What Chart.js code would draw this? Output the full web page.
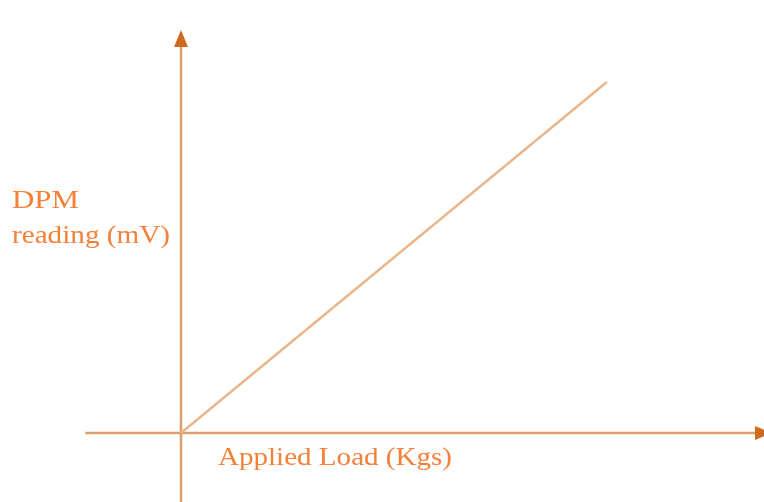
<!DOCTYPE html>
<html>
<head>
<meta charset="utf-8">
<script src="https://cdn.jsdelivr.net/npm/chart.js@4"></script>
<style>
  html, body { margin: 0; padding: 0; background: #fff; }
  #wrap { width: 764px; height: 502px; }
</style>
</head>
<body>
<div id="wrap"><canvas id="chart" width="764" height="502"></canvas></div>
<script>
// data (arbitrary units, straight line through origin)
const loadKgs = [0, 10];
const dpmMv = [0, 10];
const yLabelLines = ["DPM", "reading (mV)"];
const xLabel = "Applied Load (Kgs)";

const axisColor = "#dca070";
const arrowColor = "#cf6a1e";
const lineColor = "#e9b68c";
const textColor = "#f5803a";

// draws the two axes with arrow heads and the labels
const axesPlugin = {
  id: "axesPlugin",
  beforeDatasetsDraw(chart) {
    const { ctx, scales } = chart;
    const x0 = scales.x.getPixelForValue(0);
    const y0 = scales.y.getPixelForValue(0);
    const xLeft = scales.x.getPixelForValue(-2.25);
    const xRight = scales.x.getPixelForValue(scales.x.max) + 8;
    const yTop = scales.y.getPixelForValue(11.48);
    const yBottom = scales.y.getPixelForValue(scales.y.min);

    ctx.save();
    ctx.strokeStyle = axisColor;
    ctx.lineWidth = 2.5;
    ctx.beginPath();
    ctx.moveTo(xLeft, y0);
    ctx.lineTo(xRight - 10, y0);
    ctx.moveTo(x0, yBottom);
    ctx.lineTo(x0, yTop + 10);
    ctx.stroke();

    ctx.fillStyle = arrowColor;
    ctx.beginPath();
    ctx.moveTo(x0, yTop);
    ctx.lineTo(x0 - 7, yTop + 17);
    ctx.lineTo(x0 + 7, yTop + 17);
    ctx.closePath();
    ctx.fill();
    ctx.beginPath();
    ctx.moveTo(xRight, y0);
    ctx.lineTo(xRight - 17, y0 - 7);
    ctx.lineTo(xRight - 17, y0 + 7);
    ctx.closePath();
    ctx.fill();
    ctx.restore();
  },
  afterDraw(chart) {
    const { ctx, scales } = chart;
    const x0 = scales.x.getPixelForValue(0);
    const y0 = scales.y.getPixelForValue(0);
    ctx.save();
    ctx.fillStyle = textColor;
    ctx.font = "26px 'Liberation Serif', 'Times New Roman', serif";
    ctx.textBaseline = "alphabetic";

    // the source image is stretched sideways, so fit each label to its width
    const drawText = (t, x, y, w) => {
      const sx = w / ctx.measureText(t).width;
      ctx.save();
      ctx.translate(x, y);
      ctx.scale(sx, 1);
      ctx.fillText(t, 0, 0);
      ctx.restore();
    };
    drawText(yLabelLines[0], 12, 208, 67);
    drawText(yLabelLines[1], 12, 243, 158);
    drawText(xLabel, x0 + 37, y0 + 32, 234);
    ctx.restore();
  }
};

new Chart(document.getElementById("chart"), {
  type: "scatter",
  data: {
    datasets: [{
      data: loadKgs.map((x, i) => ({ x: x, y: dpmMv[i] })),
      showLine: true,
      borderColor: lineColor,
      borderWidth: 2.5,
      pointRadius: 0,
      fill: false
    }]
  },
  options: {
    responsive: false,
    animation: false,
    layout: { padding: 0 },
    plugins: { legend: { display: false }, tooltip: { enabled: false } },
    scales: {
      x: { display: false, min: -4.25, max: 13.69 },
      y: { display: false, min: -1.966, max: 12.336 }
    }
  },
  plugins: [axesPlugin]
});
</script>
</body>
</html>
